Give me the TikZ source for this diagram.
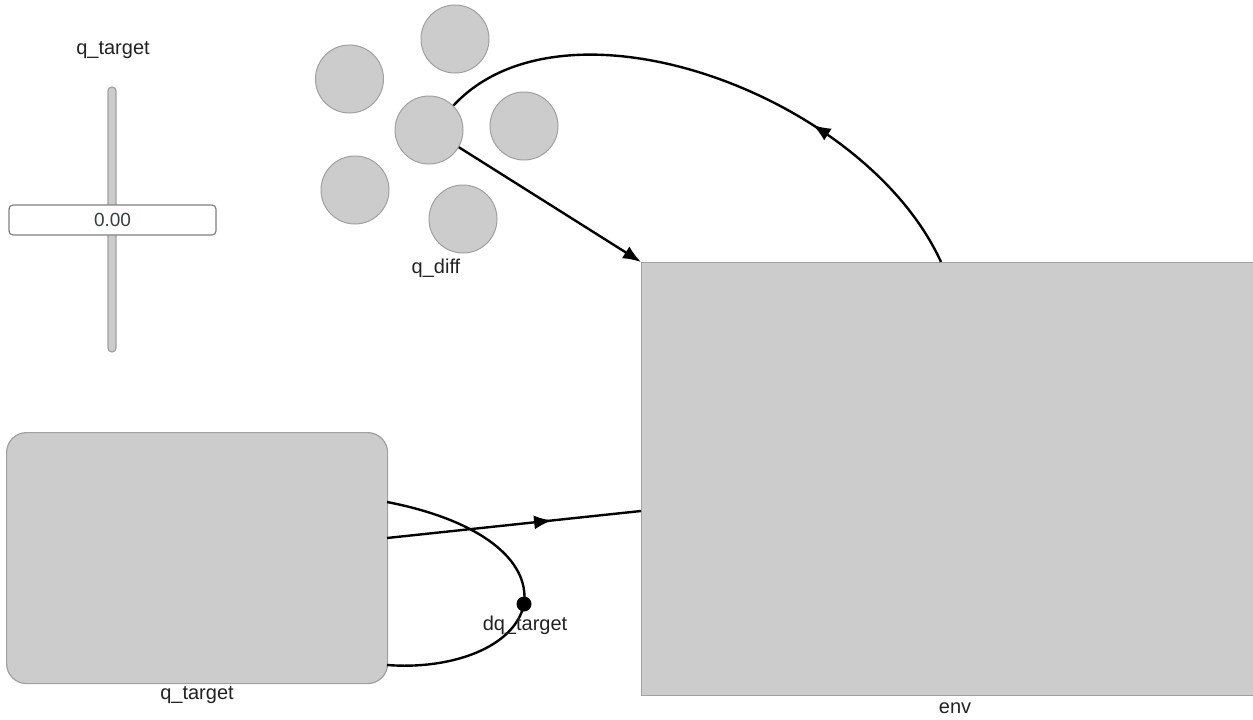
\documentclass[tikz,border=0pt]{standalone}
\usepackage{fontspec}
\setmainfont{Liberation Sans}
\usetikzlibrary{arrows.meta,decorations.markings}
\definecolor{boxfill}{HTML}{CCCCCC}
\definecolor{boxedge}{HTML}{A0A0A0}
\definecolor{txt}{HTML}{222222}
\definecolor{valtxt}{HTML}{33404C}
\tikzset{
  x=1pt, y=-1pt,
  lbl/.style={text=txt, font=\fontsize{20}{24}\selectfont, inner sep=0pt},
  ball/.style={circle, fill=boxfill, draw=boxedge, line width=1pt, minimum size=68pt, inner sep=0pt},
  block/.style={fill=boxfill, draw=boxedge, line width=1.2pt, inner sep=0pt},
  wire/.style={line width=2.4pt, draw=black},
  tip/.style={-{Latex[length=18pt,width=14pt]}},
  midtip/.style={postaction={decorate}, decoration={markings,
      mark=at position #1 with {\arrow{Latex[length=18pt,width=14pt]}}}},
}
\begin{document}
\begin{tikzpicture}
\useasboundingbox (0,0) rectangle (1253,720);

% slider for q_target
\node[lbl] (slidertitle) at (113,50) {q\_target};
\node[fill=boxfill, draw=boxedge, line width=1.2pt, rounded corners=4pt,
      minimum width=8pt, minimum height=265pt, inner sep=0pt] (track) at (112,219.5) {};
\node[fill=white, draw=gray, line width=1.2pt, rounded corners=4pt,
      minimum width=207pt, minimum height=30pt, inner sep=0pt,
      text=valtxt, font=\fontsize{19}{22}\selectfont] (handle) at (112.5,220) {0.00};

% q_diff cluster
\node[ball] (c1) at (455,39) {};
\node[ball] (c2) at (349.5,79) {};
\node[ball] (c0) at (429,130) {};
\node[ball] (c3) at (524,126) {};
\node[ball] (c4) at (355,190) {};
\node[ball] (c5) at (463,219) {};
\node[lbl] (qdifflbl) at (436,268) {q\_diff};

% env block
\node[block, minimum width=614pt, minimum height=433pt, anchor=north west] (env) at (641,262) {};
\node[lbl] (envlbl) at (955,708) {env};

% q_target block
\node[block, rounded corners=20pt, minimum width=381pt, minimum height=251pt, anchor=north west] (qt) at (6,432) {};
\node[lbl] (qtlbl) at (197,695) {q\_target};

% connectors
\coordinate (dqdot) at (524,604);
\draw[wire, tip] (c0.-30) -- (env.north west);
\draw[wire, midtip=0.33] (env.north west -| 941,0) .. controls (865,95) and (565,-15) .. (c0.45);
\draw[wire, midtip=0.65] (387,538) -- (env.west |- 0,511);
\draw[wire] (387,502) .. controls (480,520) and (530,560) .. (dqdot)
            .. controls (515,648) and (450,670) .. (387,665);
\fill (dqdot) circle (7.5pt);
\node[lbl] (dqlbl) at (525,625) {dq\_target};
\end{tikzpicture}
\end{document}
